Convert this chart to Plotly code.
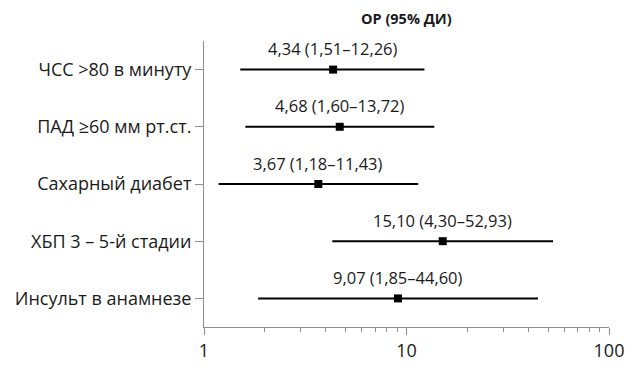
import math
import plotly.graph_objects as go

labels = ["ЧСС >80 в минуту", "ПАД ≥60 мм рт.ст.", "Сахарный диабет", "ХБП 3 – 5-й стадии", "Инсульт в анамнезе"]
or_vals = [4.34, 4.68, 3.67, 15.10, 9.07]
ci_low = [1.51, 1.60, 1.18, 4.30, 1.85]
ci_high = [12.26, 13.72, 11.43, 52.93, 44.60]
title_text = "ОР (95% ДИ)"

FONT = "Open Sans"
TXT = "#1a1a1a"
AX = "#8c8c8c"

def fmt(v):
    return f"{v:.2f}".replace(".", ",")

fig = go.Figure()
fig.add_trace(go.Scatter(
    x=or_vals, y=labels, mode="markers",
    marker=dict(symbol="square", size=8, color="black"),
    error_x=dict(type="data", symmetric=False,
                 array=[h - o for h, o in zip(ci_high, or_vals)],
                 arrayminus=[o - l for o, l in zip(or_vals, ci_low)],
                 width=0, thickness=2, color="black"),
    showlegend=False, hoverinfo="skip",
))

for lab, o, lo, hi in zip(labels, or_vals, ci_low, ci_high):
    fig.add_annotation(x=math.log10(o), y=lab, xref="x", yref="y",
                       text=f"{fmt(o)} ({fmt(lo)}–{fmt(hi)})",
                       showarrow=False, yshift=21,
                       font=dict(family=FONT, size=16.5, color=TXT))

fig.add_annotation(x=1, y=1, xref="x", yref="paper", text=f"<b>{title_text}</b>",
                   showarrow=False, yanchor="middle", yshift=23,
                   font=dict(family=FONT, size=14.5, color=TXT))

# page body has an 8px default margin; size the figure so the plot lands in place
fig.update_layout(
    width=628, height=357,
    margin=dict(l=196, r=27, t=33, b=38),
    paper_bgcolor="white", plot_bgcolor="white",
    font=dict(family=FONT, color=TXT),
)
fig.update_xaxes(type="log", range=[0, 2], dtick=1, automargin=False,
                 showgrid=False, zeroline=False,
                 showline=True, linecolor=AX, linewidth=1,
                 ticks="outside", ticklen=7, tickcolor=AX, tickwidth=1,
                 minor=dict(ticks="outside", ticklen=4, tickcolor=AX, dtick="D1", showgrid=False),
                 tickfont=dict(family=FONT, size=18, color=TXT))
fig.update_yaxes(type="category", categoryorder="array", categoryarray=labels,
                 range=[4.5, -0.5], showgrid=False, zeroline=False, automargin=False,
                 showline=True, linecolor=AX, linewidth=1,
                 ticks="outside", ticklen=8, tickcolor=AX, tickwidth=1,
                 tickfont=dict(family=FONT, size=18, color=TXT))

fig.write_html("out.html")
